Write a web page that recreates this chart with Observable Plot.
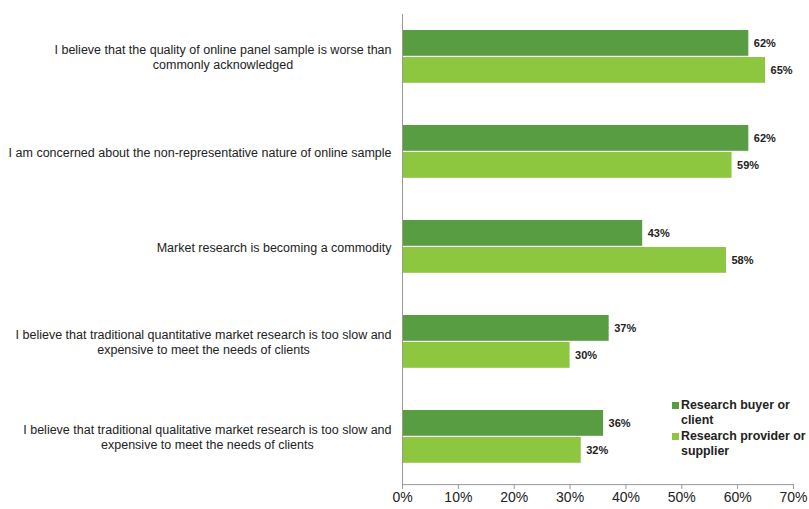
<!DOCTYPE html>
<html>
<head>
<meta charset="utf-8">
<script src="https://cdn.jsdelivr.net/npm/d3@7"></script>
<script src="https://cdn.jsdelivr.net/npm/@observablehq/plot@0.6"></script>
<style>
  body { margin: 0; background: #fff; font-family: "Liberation Sans", Arial, sans-serif; }
  #wrap { position: relative; width: 809px; height: 509px; }
  #legend { position: absolute; left: 672px; top: 398px; font: bold 12.4px "Liberation Sans", Arial, sans-serif; color: #222; line-height: 15px; }
  #legend .item { position: relative; padding-left: 9px; margin-bottom: 1px; }
  #legend .sw { position: absolute; left: 0; top: 4px; width: 7px; height: 7px; }
</style>
</head>
<body>
<div id="wrap"><div id="legend"></div></div>
<script>
const categories = [
  "I believe that the quality of online panel sample is worse than\ncommonly acknowledged",
  "I am concerned about the non-representative nature of online sample",
  "Market research is becoming a commodity",
  "I believe that traditional quantitative market research is too slow and\nexpensive to meet the needs of clients",
  "I believe that traditional qualitative market research is too slow and\nexpensive to meet the needs of clients"
];
const seriesNames = ["Research buyer or\nclient", "Research provider or\nsupplier"];
const buyerValues = [62, 62, 43, 37, 36];
const providerValues = [65, 59, 58, 30, 32];
const colors = ["#599d43", "#8dc63f"];
const xTicks = [0, 10, 20, 30, 40, 50, 60, 70];

const buyer = categories.map((c, i) => ({cat: c, value: buyerValues[i]}));
const provider = categories.map((c, i) => ({cat: c, value: providerValues[i]}));

const labelStyle = {fontSize: 11, fontWeight: "bold", fill: "#222", textAnchor: "start", dx: 5};

const chart = Plot.plot({
  width: 809,
  height: 509,
  marginLeft: 402,
  marginRight: 16,
  marginTop: 8,
  marginBottom: 25,
  style: {fontFamily: "Liberation Sans, Arial, sans-serif", background: "#fff"},
  x: {domain: [0, 70]},
  y: {domain: categories, padding: 0},
  marks: [
    Plot.barX(buyer, {y: "cat", x: "value", fill: colors[0], insetTop: 21, insetBottom: 48.2}),
    Plot.barX(provider, {y: "cat", x: "value", fill: colors[1], insetTop: 48, insetBottom: 21.2}),
    Plot.text(buyer, {y: "cat", x: "value", text: d => d.value + "%", dy: -13.5, ...labelStyle}),
    Plot.text(provider, {y: "cat", x: "value", text: d => d.value + "%", dy: 13.5, ...labelStyle}),
    Plot.ruleX([0], {stroke: "#999", strokeWidth: 1, insetTop: 6}),
    Plot.ruleY([categories[categories.length - 1]], {dy: 47.6, stroke: "#999", strokeWidth: 1}),
    Plot.axisY({tickSize: 0, tickPadding: 11, fontSize: 12.5, fill: "#222", lineHeight: 1.2, label: null}),
    Plot.axisX({ticks: xTicks, tickFormat: d => d + "%", tickSize: 5, tickPadding: 3, fontSize: 14, stroke: "#999", fill: "#222", label: null})
  ]
});
document.getElementById("wrap").prepend(chart);

// center multi-line category labels within their block (block right-aligned to the axis)
d3.select(chart).selectAll('g[aria-label="y-axis tick label"] text').each(function() {
  const tspans = Array.from(this.querySelectorAll("tspan"));
  if (tspans.length < 2) return;
  const maxW = d3.max(tspans, t => t.getComputedTextLength());
  this.setAttribute("text-anchor", "middle");
  tspans.forEach(t => t.setAttribute("x", -maxW / 2));
});

const legend = document.getElementById("legend");
seriesNames.forEach((name, i) => {
  const item = document.createElement("div");
  item.className = "item";
  const sw = document.createElement("span");
  sw.className = "sw";
  sw.style.background = colors[i];
  item.appendChild(sw);
  name.split("\n").forEach((line, j) => {
    if (j) item.appendChild(document.createElement("br"));
    item.appendChild(document.createTextNode(line));
  });
  legend.appendChild(item);
});
</script>
</body>
</html>
